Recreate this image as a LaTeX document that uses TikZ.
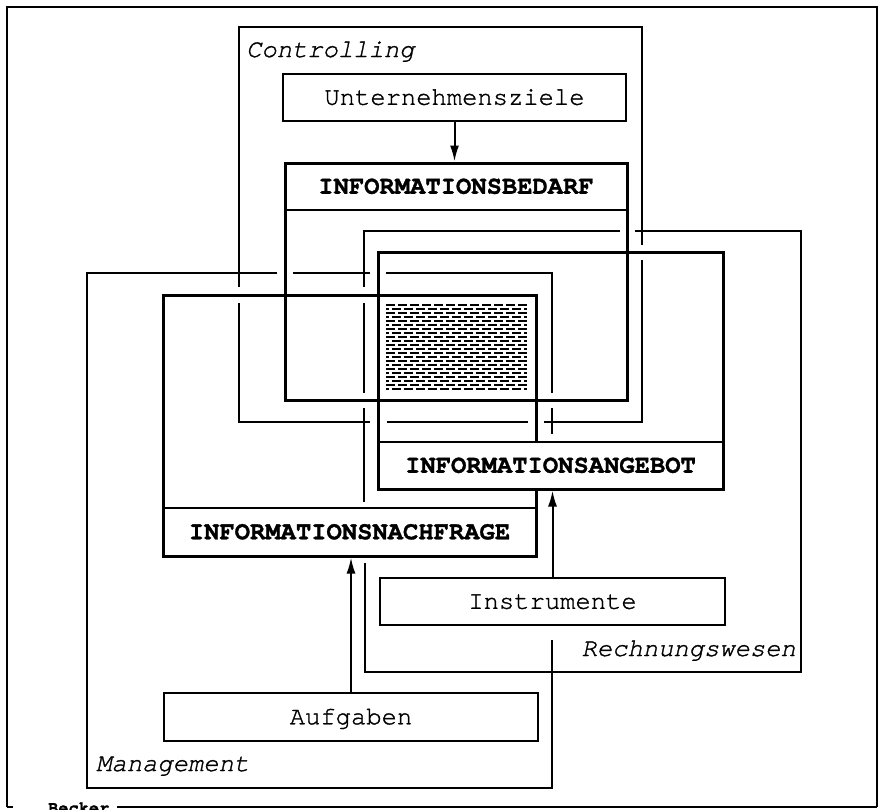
\documentclass[tikz,border=0pt]{standalone}
\usepackage{fontspec}
\setmainfont{TeX Gyre Cursor}[FakeBold=1.2]
\newfontfamily\curbold{TeX Gyre Cursor Bold}
\usetikzlibrary{arrows.meta}
\newcommand\dgfont{\fontsize{25.5pt}{30pt}\selectfont}
\begin{document}
\begin{tikzpicture}[x=1pt,y=-1pt,
  frame/.style={line width=1.3pt, line join=miter},
  bigbox/.style={draw, line width=3pt, inner sep=0pt},
  box/.style={draw, line width=2.4pt, fill=white, font=\dgfont, text height=14.5pt, text depth=0pt, inner sep=0pt},
  head/.style={font=\dgfont\bfseries, text height=14.5pt, text depth=0pt, inner sep=0pt},
  divider/.style={line width=1.7pt},
  lbl/.style={font=\dgfont\itshape, inner sep=0pt},
  arr/.style={line width=2pt, -{Latex[length=16pt,width=9pt]}},
  hatch/.style={line width=2.3pt, dash pattern=on 9pt off 3pt},
]
\useasboundingbox (0,0) rectangle (883,809);

% outer frame
\draw[line width=2.5pt] (7,807) -- (7,7) -- (877,7) -- (877,807);
\draw[line width=1.2pt] (7,807) -- (13,807) (117,807) -- (877,807);
\node[font=\fontsize{17pt}{20pt}\selectfont\bfseries, anchor=base west, inner sep=0pt] (becker) at (48,813) {Becker};

% Controlling
\draw[frame] (239,287) -- (239,27) -- (642,27) -- (642,245)
  (642,260) -- (642,422) -- (544,422)
  (528,422) -- (387,422)
  (370,422) -- (239,422) -- (239,303);
\node[lbl, anchor=base west] (ctl) at (246,57) {Controlling};

% Management
\draw[frame] (277,273) -- (87,273) -- (87,788) -- (552,788) -- (552,640)
  (552,434) -- (552,408)
  (552,393) -- (552,273) -- (386,273)
  (370,273) -- (293,273);
\node[lbl, anchor=base west] (mgmt) at (96,771) {Management};

% Rechnungswesen
\draw[frame] (620,231) -- (364,231) -- (364,287)
  (364,303) -- (364,393)
  (364,408) -- (364,502)
  (365,563) -- (365,672) -- (801,672) -- (801,231) -- (635,231);
\node[lbl, anchor=base east] (rw) at (796,656) {Rechnungswesen};

% hatched intersection
\begin{scope}
\clip (386,303) rectangle (527,391);
\foreach \yy in {305,313,...,389} \draw[hatch] (386,\yy) -- (527,\yy);
\foreach \yy in {309,317,...,389} \draw[hatch, dash phase=6pt] (386,\yy) -- (527,\yy);
\end{scope}

% INFORMATIONSBEDARF
\node[bigbox, minimum width=342pt, minimum height=237pt] (bedarf) at (456,281.5) {};
\draw[divider] (285,210) -- (627,210);
\node[head] (bedarfh) at (456,186.5) {INFORMATIONSBEDARF};

% INFORMATIONSNACHFRAGE
\node[bigbox, minimum width=373pt, minimum height=261pt] (nachfrage) at (349.5,425.5) {};
\draw[divider] (163,508) -- (536,508);
\node[head] (nachfrageh) at (349.5,532) {INFORMATIONSNACHFRAGE};

% INFORMATIONSANGEBOT
\fill[white] (378,442) rectangle (723,489);
\node[bigbox, minimum width=345pt, minimum height=237pt] (angebot) at (550.5,370.5) {};
\draw[divider] (378,442) -- (723,442);
\node[head] (angeboth) at (550.5,465.5) {INFORMATIONSANGEBOT};

% small boxes
\node[box, minimum width=343pt, minimum height=47pt] (uz) at (454.5,97.5) {Unternehmensziele};
\node[box, minimum width=345pt, minimum height=47pt] (inst) at (552.5,601.5) {Instrumente};
\node[box, minimum width=374pt, minimum height=48pt] (aufg) at (351,717) {Aufgaben};

% arrows
\draw[arr] (uz.south) -- (uz.south |- bedarf.north);
\draw[arr] (inst.north) -- (inst.north |- angebot.south);
\draw[arr] (aufg.north) -- (aufg.north |- nachfrage.south);
\end{tikzpicture}
\end{document}
